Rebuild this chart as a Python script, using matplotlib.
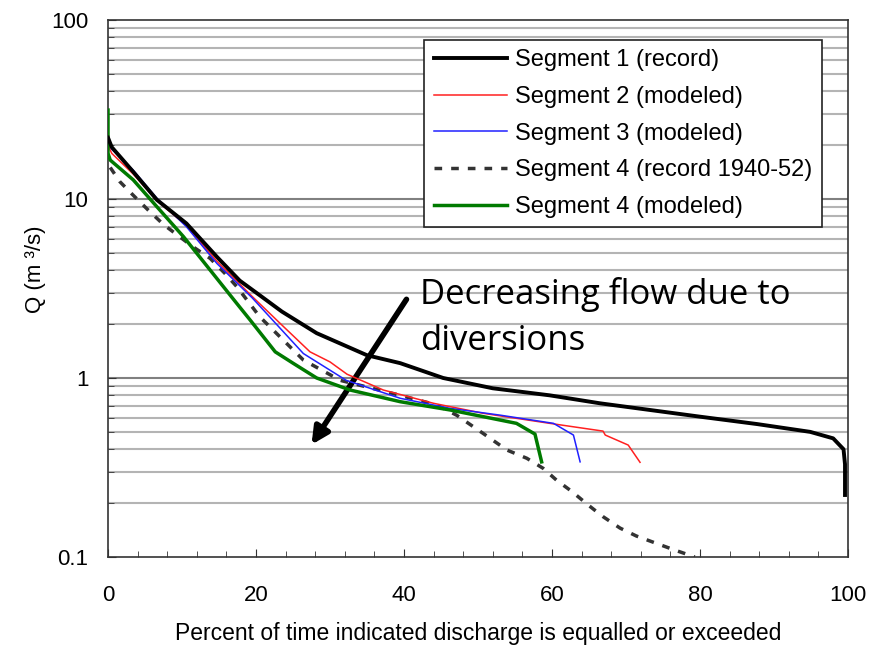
import matplotlib
matplotlib.use('Agg')
import matplotlib.pyplot as plt
from matplotlib.ticker import LogLocator, FixedLocator, FixedFormatter, NullFormatter

plt.rcParams['font.family'] = ['Liberation Sans', 'DejaVu Sans']

# Segment 1 (record)
seg1_x = [0, 0.5, 3.4, 6.6, 10.6, 14.7, 17.8, 20.5, 23.5, 28.2, 35, 39.5, 45.3, 52, 59.7, 66.5, 73.2, 80, 87.7, 94.9, 98, 99.4, 99.6, 99.6]
seg1_q = [22, 19.5, 14.2, 9.9, 7.3, 4.76, 3.5, 2.9, 2.35, 1.78, 1.34, 1.21, 1.0, 0.876, 0.8, 0.722, 0.663, 0.608, 0.553, 0.5, 0.46, 0.40, 0.33, 0.222]

# Segment 2 (modeled)
seg2_x = [0, 0.5, 3.4, 6.6, 10.6, 14.7, 19.5, 23.7, 27.3, 30, 32.3, 37.2, 44, 50.7, 59.7, 66.9, 67.2, 70.3, 71.9]
seg2_q = [20, 18, 13.8, 9.8, 7.1, 4.5, 2.85, 1.94, 1.40, 1.23, 1.05, 0.857, 0.722, 0.635, 0.558, 0.505, 0.48, 0.422, 0.338]

# Segment 3 (modeled)
seg3_x = [0, 0.5, 3.4, 6.6, 10.6, 14.7, 19.5, 26.4, 32.2, 39.5, 46.2, 53, 60.2, 62.9, 63.8]
seg3_q = [21, 19, 14.5, 10.1, 7.0, 4.37, 2.8, 1.37, 0.97, 0.77, 0.677, 0.62, 0.558, 0.48, 0.34]

# Segment 4 (record 1940-52)
seg4r_x = [0.3, 1.6, 3.4, 5.4, 7.5, 11.5, 13.8, 15.8, 17.4, 20.5, 26.4, 31.4, 39.5, 44.4, 47.1, 50.7, 53.9, 56.6, 58.8, 60.6, 62.7, 64.9, 66.9, 69.2, 71.4, 73.9, 76.4, 79.3]
seg4r_q = [15, 12.5, 10.5, 8.7, 7.2, 5.4, 4.66, 3.84, 3.24, 2.2, 1.26, 0.97, 0.80, 0.707, 0.62, 0.49, 0.396, 0.356, 0.313, 0.269, 0.232, 0.195, 0.168, 0.145, 0.131, 0.12, 0.11, 0.1]

# Segment 4 (modeled)
seg4m_x = [0, 0, 0.3, 3.4, 6.6, 10.2, 13.8, 17.4, 19.2, 22.6, 25, 28.2, 32.7, 39.5, 46.2, 55.2, 57.7, 58.6]
seg4m_q = [31.4, 18, 16.5, 12.8, 9.06, 6.16, 4.01, 2.61, 2.11, 1.40, 1.21, 1.0, 0.857, 0.737, 0.663, 0.558, 0.486, 0.34]

y_ticks = [0.1, 1, 10, 100]
y_ticklabels = ['0.1', '1', '10', '100']
x_ticks = [0, 20, 40, 60, 80, 100]

fig = plt.figure(figsize=(8.81, 6.46), dpi=100)
ax = fig.add_axes([0.1226, 0.1378, 0.8399, 0.8312])

ax.set_yscale('log')
ax.set_xlim(0, 100)
ax.set_ylim(0.1, 100)

# horizontal gridlines
for dec in [0.1, 1, 10]:
    for m in range(2, 10):
        ax.axhline(dec * m, color='#b4b4b4', lw=1.5, zorder=1)
for v in [1, 10]:
    ax.axhline(v, color='#808080', lw=1.5, zorder=1)

ax.plot(seg1_x, seg1_q, color='black', lw=2.8, label='Segment 1 (record)', zorder=5)
ax.plot(seg2_x, seg2_q, color='#ff2020', lw=1.1, label='Segment 2 (modeled)', zorder=4)
ax.plot(seg3_x, seg3_q, color='#2020ff', lw=1.1, label='Segment 3 (modeled)', zorder=4)
ax.plot(seg4r_x, seg4r_q, color='#333333', lw=2.5, ls=(0, (2.2, 2.6)), label='Segment 4 (record 1940-52)', zorder=3)
ax.plot(seg4m_x, seg4m_q, color='#007a00', lw=2.5, label='Segment 4 (modeled)', zorder=4)

ax.xaxis.set_major_locator(FixedLocator(x_ticks))
ax.xaxis.set_minor_locator(FixedLocator(list(range(0, 101, 4))))
ax.yaxis.set_major_locator(FixedLocator(y_ticks))
ax.yaxis.set_major_formatter(FixedFormatter(y_ticklabels))
ax.yaxis.set_minor_locator(LogLocator(base=10, subs=range(2, 10)))
ax.yaxis.set_minor_formatter(NullFormatter())
ax.tick_params(which='both', direction='in', labelsize=16, color='#333333')
ax.tick_params(which='major', length=6)
ax.tick_params(which='minor', length=4)
ax.tick_params(axis='y', which='major', pad=14)
ax.tick_params(axis='x', which='major', pad=20)

for s in ax.spines.values():
    s.set_color('#333333')
    s.set_linewidth(1.2)

ax.set_xlabel('Percent of time indicated discharge is equalled or exceeded', fontsize=16.5, labelpad=12)
ax.set_ylabel('Q (m \u00b3/s)', fontsize=16)
ax.yaxis.set_label_coords(-0.084, 0.536)

leg = ax.legend(loc='upper right', bbox_to_anchor=(0.965, 0.963), fontsize=17,
                fancybox=False, framealpha=1, edgecolor='#222222', handlelength=3.1,
                borderpad=0.4, labelspacing=0.62, handletextpad=0.35, borderaxespad=0)
leg.get_frame().set_linewidth(1.2)

ax.text(420, 646 - 277, 'Decreasing flow due to\ndiversions', transform=None, fontsize=25,
        family=['Open Sans', 'DejaVu Sans'], va='top', ha='left', linespacing=1.45, zorder=6)
ax.annotate('', xy=(310, 646 - 447), xycoords='figure pixels',
            xytext=(408, 646 - 297), textcoords='figure pixels',
            arrowprops=dict(arrowstyle='-|>,head_width=0.5,head_length=1.0', lw=4, color='black'))

fig.savefig('out.png', dpi=100)
